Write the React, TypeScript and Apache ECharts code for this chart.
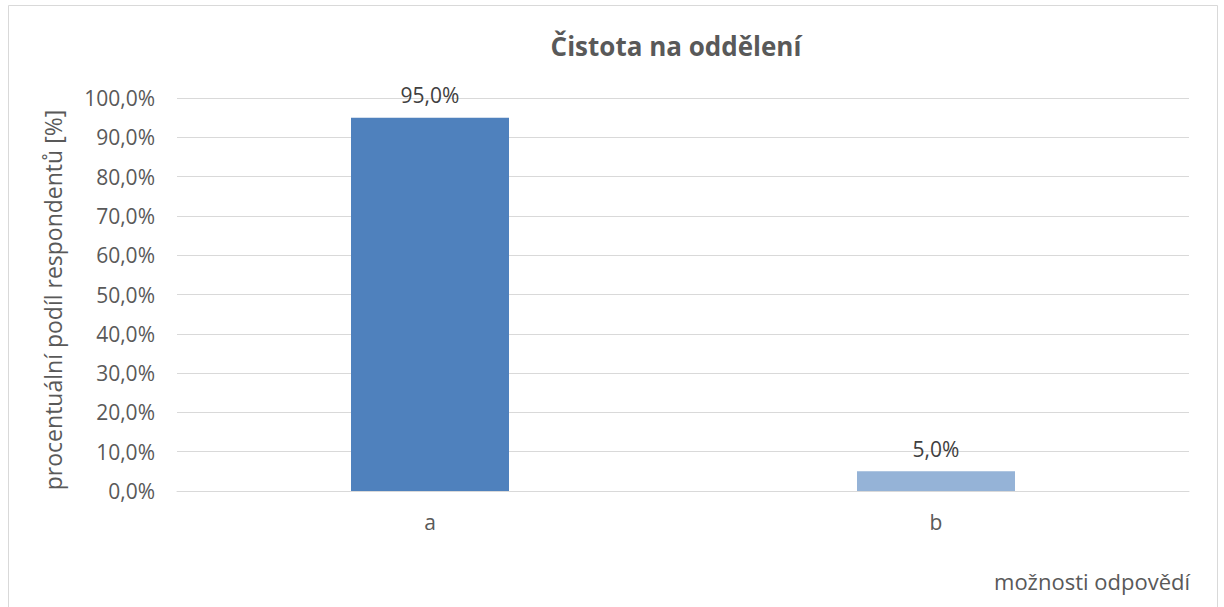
import React, { useEffect, useRef } from "react";
import * as echarts from "echarts";

const categories = ["a", "b"];
const values = [95.0, 5.0];
const barColors = ["#4F81BD", "#95B3D7"];
const titleText = "Čistota na oddělení";
const yAxisName = "procentuální podíl respondentů [%]";
const xAxisName = "možnosti odpovědí";

const fmt = (v: number) => v.toFixed(1).replace(".", ",") + "%";
const FONT = "'Open Sans', 'Noto Sans', sans-serif";
const TXT = "#595959";

export default function App() {
  const ref = useRef<HTMLDivElement>(null);
  useEffect(() => {
    if (!ref.current) return;
    const chart = echarts.init(ref.current, null, { renderer: "svg" });
    chart.setOption({
      animation: false,
      backgroundColor: "#fff",
      textStyle: { fontFamily: FONT },
      grid: { left: 177, right: 35, top: 98, bottom: 116 },
      xAxis: {
        type: "category",
        data: categories,
        axisTick: { show: false },
        axisLine: { lineStyle: { color: "#d9d9d9" } },
        axisLabel: { color: TXT, fontSize: 21, fontFamily: FONT, margin: 20 },
      },
      yAxis: {
        type: "value",
        min: 0,
        max: 100,
        interval: 10,
        axisLine: { show: false },
        axisTick: { show: false },
        axisLabel: { color: TXT, fontSize: 21, fontFamily: FONT, margin: 22, formatter: (v: number) => fmt(v) },
        splitLine: { lineStyle: { color: "#d9d9d9", width: 1 } },
      },
      series: [
        {
          type: "bar",
          barWidth: 158,
          data: values.map((v, i) => ({ value: v, itemStyle: { color: barColors[i] } })),
          label: {
            show: true,
            position: "top",
            distance: 12,
            color: "#404040",
            fontSize: 21,
            fontFamily: FONT,
            formatter: (p: any) => fmt(p.value),
          },
        },
      ],
      graphic: [
        {
          type: "rect",
          shape: { x: 8.5, y: 5.5, width: 1209, height: 640 },
          style: { fill: "none", stroke: "#d9d9d9", lineWidth: 1 },
          silent: true,
        },
        {
          type: "text",
          x: 676,
          y: 46,
          style: {
            text: titleText,
            fill: TXT,
            fontSize: 26,
            fontWeight: "bold",
            fontFamily: FONT,
            textAlign: "center",
            textVerticalAlign: "middle",
          },
        },
        {
          type: "text",
          x: 53,
          y: 300,
          rotation: Math.PI / 2,
          style: {
            text: yAxisName,
            fill: TXT,
            fontSize: 23,
            fontFamily: FONT,
            textAlign: "center",
            textVerticalAlign: "middle",
          },
        },
        {
          type: "text",
          x: 1190,
          y: 581,
          style: {
            text: xAxisName,
            fill: TXT,
            fontSize: 22,
            fontFamily: FONT,
            textAlign: "right",
            textVerticalAlign: "middle",
          },
        },
      ],
    });
    return () => chart.dispose();
  }, []);
  return (
    <div
      ref={ref}
      style={{ position: "absolute", left: 0, top: 0, width: 1224, height: 607 }}
    />
  );
}
